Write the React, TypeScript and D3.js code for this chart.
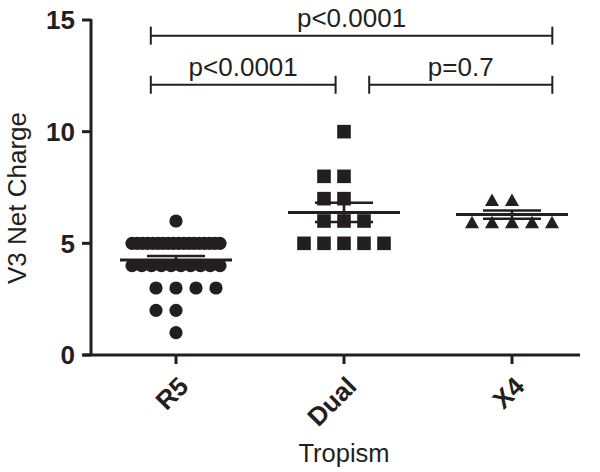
import React from "react";
import * as d3 from "d3";

const categories = ["R5", "Dual", "X4"];
const r5Values = [6, 5, 5, 5, 5, 5, 5, 5, 5, 5, 5, 5, 5, 5, 5, 5, 5, 5, 5, 4, 4, 4, 4, 4, 4, 4, 4, 4, 4, 3, 3, 3, 3, 2, 2, 1];
const dualValues = [10, 8, 8, 7, 7, 6, 6, 6, 5, 5, 5, 5, 5];
const x4Values = [7, 7, 6, 6, 6, 6, 6];
const seriesValues = [r5Values, dualValues, x4Values];
const yTicks = [0, 5, 10, 15];
const comparisons = [
  { from: "R5", to: "X4", label: "p<0.0001", level: 14.3, fromOff: 0.35, toOff: 0.74 },
  { from: "R5", to: "Dual", label: "p<0.0001", level: 12.1, fromOff: 0.35, toOff: 0.45 },
  { from: "Dual", to: "X4", label: "p=0.7", level: 12.1, fromOff: 0.65, toOff: 0.74 },
];

const W = 600;
const H = 472;
const INK = "#231f20";
const FONT = "'Liberation Sans', Arial, Helvetica, sans-serif";

const order = [0, -1, 1, 2, -2, 3, -3, 4, -4];

function layout(values: number[]) {
  const groups = d3.group(values, (v) => v);
  const pts: { v: number; off: number }[] = [];
  groups.forEach((arr, v) => {
    const n = arr.length;
    const step = 20;
    const maxSpan = 88;
    if ((n - 1) * step > maxSpan) {
      const s = maxSpan / (n - 1);
      arr.forEach((_, i) => pts.push({ v, off: -maxSpan / 2 + i * s }));
    } else {
      arr.forEach((_, i) => pts.push({ v, off: order[i] * step }));
    }
  });
  return pts;
}

export default function App() {
  const y = d3.scaleLinear().domain([0, 15]).range([355, 20]);
  const x = d3.scaleBand().domain(categories).range([92, 596]);
  const cx = (c: string) => (x(c) as number) + x.bandwidth() / 2;
  const axisX = 91;

  const marker = (ci: number, px: number, py: number, key: string) => {
    if (ci === 0) return <circle key={key} cx={px} cy={py} r={6.6} fill={INK} />;
    if (ci === 1)
      return <rect key={key} x={px - 6.8} y={py - 6.8} width={13.6} height={13.6} fill={INK} />;
    const w = 14, h = 12.5;
    const top = py - h / 2 + 1;
    return (
      <path
        key={key}
        d={`M${px},${top}L${px + w / 2},${top + h}L${px - w / 2},${top + h}Z`}
        fill={INK}
      />
    );
  };

  return (
    <svg width={W} height={H} style={{ position: "absolute", left: 0, top: 0, background: "#fff" }}>
      {/* axes */}
      <line x1={axisX} x2={axisX} y1={y(15) - 1} y2={y(0)} stroke={INK} strokeWidth={3} />
      <line x1={83} x2={580} y1={y(0)} y2={y(0)} stroke={INK} strokeWidth={3} />
      {yTicks.map((t) => (
        <g key={t}>
          <line x1={82} x2={axisX} y1={y(t)} y2={y(t)} stroke={INK} strokeWidth={3} />
          <text
            x={75}
            y={y(t)}
            dy="0.36em"
            textAnchor="end"
            fontFamily={FONT}
            fontWeight="bold"
            fontSize={26}
            fill={INK}
          >
            {t}
          </text>
        </g>
      ))}
      {categories.map((c) => (
        <g key={c}>
          <line x1={cx(c)} x2={cx(c)} y1={y(0)} y2={y(0) + 9} stroke={INK} strokeWidth={3} />
          <text
            transform={`translate(${cx(c) + 14},${388}) rotate(-45)`}
            textAnchor="end"
            fontFamily={FONT}
            fontWeight="bold"
            fontSize={26}
            fill={INK}
          >
            {c}
          </text>
        </g>
      ))}
      <text x={cx("Dual")} y={462} textAnchor="middle" fontFamily={FONT} fontSize={25.5} fill={INK}>
        Tropism
      </text>
      <text
        transform={`translate(26,198) rotate(-90)`}
        textAnchor="middle"
        fontFamily={FONT}
        fontSize={26}
        fill={INK}
      >
        V3 Net Charge
      </text>

      {/* points */}
      {seriesValues.map((vals, ci) => {
        const c = categories[ci];
        return layout(vals).map((p, i) => marker(ci, cx(c) + p.off, y(p.v), `${ci}-${i}`));
      })}

      {/* mean and SEM */}
      {seriesValues.map((vals, ci) => {
        const c = categories[ci];
        const m = d3.mean(vals) as number;
        const sem = (d3.deviation(vals) as number) / Math.sqrt(vals.length);
        const X = cx(c);
        return (
          <g key={`m${ci}`} stroke={INK}>
            <line x1={X} x2={X} y1={y(m + sem)} y2={y(m - sem)} strokeWidth={2.6} />
            <line x1={X - 29} x2={X + 29} y1={y(m + sem)} y2={y(m + sem)} strokeWidth={2.6} />
            <line x1={X - 29} x2={X + 29} y1={y(m - sem)} y2={y(m - sem)} strokeWidth={2.6} />
            <line x1={X - 56} x2={X + 56} y1={y(m)} y2={y(m)} strokeWidth={3} />
          </g>
        );
      })}

      {/* significance brackets */}
      {comparisons.map((cmp, i) => {
        const x1 = (x(cmp.from) as number) + x.bandwidth() * cmp.fromOff;
        const x2 = (x(cmp.to) as number) + x.bandwidth() * cmp.toOff;
        const yy = y(cmp.level);
        return (
          <g key={`b${i}`}>
            <line x1={x1} x2={x2} y1={yy} y2={yy} stroke={INK} strokeWidth={2} />
            <line x1={x1} x2={x1} y1={yy - 9} y2={yy + 9} stroke={INK} strokeWidth={2} />
            <line x1={x2} x2={x2} y1={yy - 9} y2={yy + 9} stroke={INK} strokeWidth={2} />
            <text
              x={(x1 + x2) / 2}
              y={yy - 9}
              textAnchor="middle"
              fontFamily={FONT}
              fontSize={26}
              fill={INK}
            >
              {cmp.label}
            </text>
          </g>
        );
      })}
    </svg>
  );
}
